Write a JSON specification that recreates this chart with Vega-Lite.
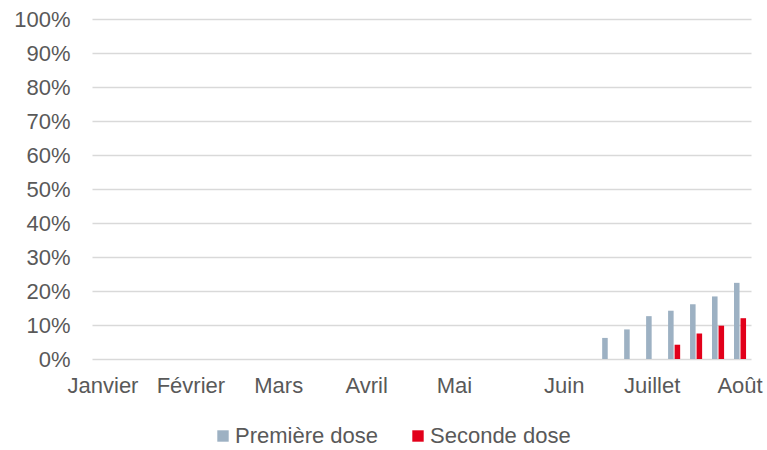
{
  "$schema": "https://vega.github.io/schema/vega-lite/v6.json",
  "width": 659,
  "height": 340,
  "autosize": {"type": "none"},
  "padding": {"left": 92, "top": 19, "right": 16, "bottom": 91},
  "background": "white",
  "config": {
    "view": {"stroke": null},
    "font": "Liberation Sans",
    "axis": {"labelFont": "Liberation Sans", "labelColor": "#595959", "labelFontSize": 22},
    "legend": {"labelFont": "Liberation Sans", "labelColor": "#595959", "labelFontSize": 22}
  },
  "data": {
    "values": [
      {"semaine": 24, "dose": "Première dose", "valeur": 0.062},
      {"semaine": 25, "dose": "Première dose", "valeur": 0.087},
      {"semaine": 26, "dose": "Première dose", "valeur": 0.126},
      {"semaine": 27, "dose": "Première dose", "valeur": 0.142},
      {"semaine": 27, "dose": "Seconde dose", "valeur": 0.042},
      {"semaine": 28, "dose": "Première dose", "valeur": 0.161},
      {"semaine": 28, "dose": "Seconde dose", "valeur": 0.075},
      {"semaine": 29, "dose": "Première dose", "valeur": 0.184},
      {"semaine": 29, "dose": "Seconde dose", "valeur": 0.098},
      {"semaine": 30, "dose": "Première dose", "valeur": 0.224},
      {"semaine": 30, "dose": "Seconde dose", "valeur": 0.12}
    ]
  },
  "mark": {"type": "bar"},
  "encoding": {
    "x": {
      "field": "semaine",
      "type": "ordinal",
      "scale": {
        "domain": [1,2,3,4,5,6,7,8,9,10,11,12,13,14,15,16,17,18,19,20,21,22,23,24,25,26,27,28,29,30],
        "paddingInner": 0.45,
        "paddingOuter": 0.225
      },
      "axis": {
        "title": null,
        "ticks": false,
        "domain": false,
        "grid": false,
        "labelAngle": 0,
        "labelPadding": 16,
        "labelOverlap": false,
        "labelExpr": "datum.value == 1 ? 'Janvier' : datum.value == 5 ? 'Février' : datum.value == 9 ? 'Mars' : datum.value == 13 ? 'Avril' : datum.value == 17 ? 'Mai' : datum.value == 22 ? 'Juin' : datum.value == 26 ? 'Juillet' : datum.value == 30 ? 'Août' : ''"
      }
    },
    "xOffset": {
      "field": "dose",
      "type": "nominal",
      "scale": {"domain": ["Première dose", "Seconde dose"], "paddingInner": 0.15}
    },
    "y": {
      "field": "valeur",
      "type": "quantitative",
      "scale": {"domain": [0, 1], "nice": false},
      "axis": {
        "title": null,
        "format": ".0%",
        "values": [0, 0.1, 0.2, 0.3, 0.4, 0.5, 0.6, 0.7, 0.8, 0.9, 1],
        "ticks": false,
        "domain": false,
        "gridColor": "#d9d9d9",
        "gridWidth": 1.3,
        "labelPadding": 22
      }
    },
    "color": {
      "field": "dose",
      "type": "nominal",
      "scale": {"domain": ["Première dose", "Seconde dose"], "range": ["#9db1c3", "#e2001a"]},
      "legend": {
        "title": null,
        "orient": "none",
        "direction": "horizontal",
        "legendX": 120,
        "legendY": 406,
        "symbolType": "square",
        "symbolSize": 130,
        "symbolStrokeWidth": 0,
        "symbolOpacity": 1,
        "labelOffset": 1,
        "columnPadding": 28
      }
    }
  }
}
